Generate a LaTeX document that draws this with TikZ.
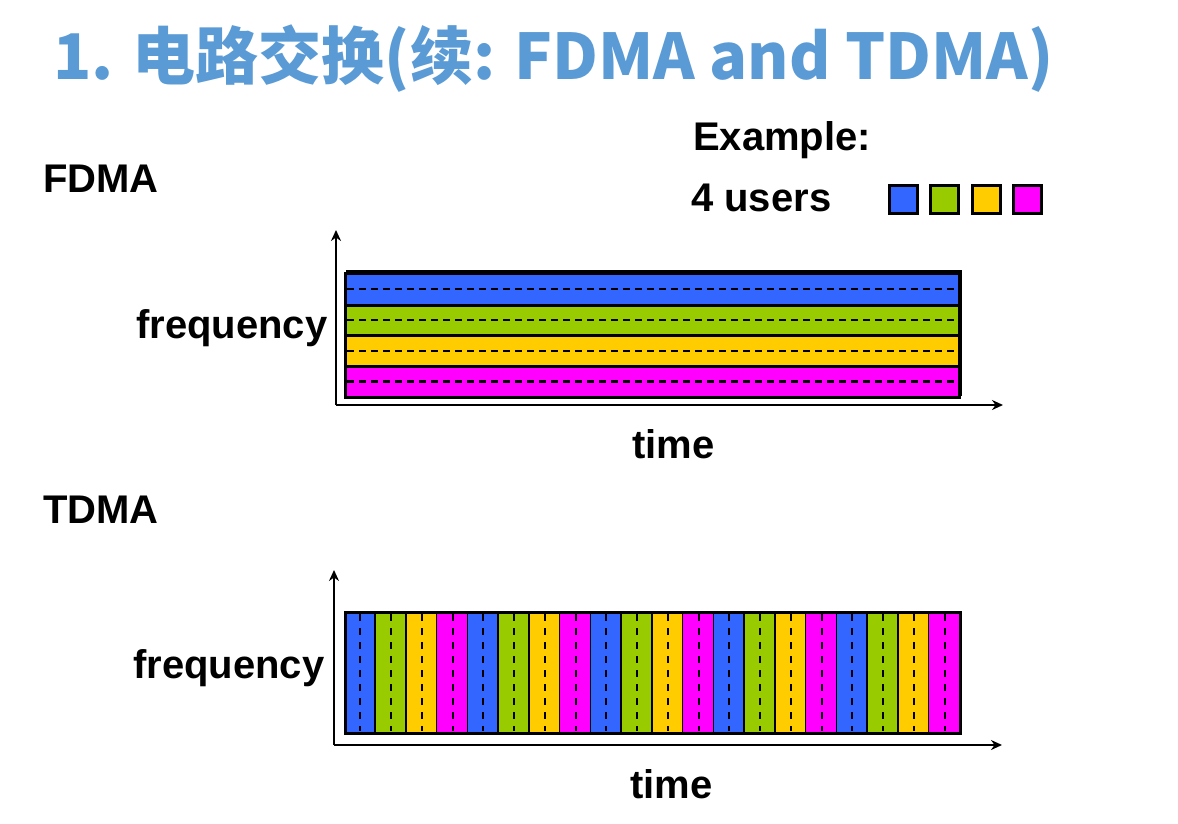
\documentclass[tikz,border=0pt]{standalone}
\usepackage{fontspec}
\setmainfont{Liberation Sans}
\newfontfamily\cjk{Noto Sans CJK SC}
\usetikzlibrary{arrows.meta}
\definecolor{ublue}{HTML}{3366FF}
\definecolor{ugreen}{HTML}{99CC00}
\definecolor{uyellow}{HTML}{FFCC00}
\definecolor{umag}{HTML}{FF00FF}
\definecolor{titleblue}{HTML}{5B9BD5}
\tikzset{
  lbl/.style={anchor=base west, inner sep=0pt, font=\fontsize{40}{48}\selectfont\bfseries},
  axis/.style={line width=2.6pt, draw=black, -{Stealth[length=11pt,width=10pt]}},
  sep/.style={line width=3pt, draw=black},
  mid/.style={line width=2.2pt, draw=black, dash pattern=on 7pt off 5pt},
  vmid/.style={line width=2.2pt, draw=black, dash pattern=on 7pt off 7pt},
  legendbox/.style={draw=black, line width=3pt, minimum size=28pt, inner sep=0pt},
}
\begin{document}
\begin{tikzpicture}[x=1pt,y=-1pt]
\useasboundingbox (0,0) rectangle (1178,824);
% title
\node[anchor=base west, inner sep=0pt, text=titleblue, font=\cjk\bfseries\fontsize{63}{70}\selectfont] (title) at (53,80) {1. 电路交换(续: FDMA and TDMA)};
% labels
\node[lbl] (ex) at (693,150) {Example:};
\node[lbl] (users) at (691,211) {4 users};
\node[lbl] (fdma) at (43,193) {FDMA};
\node[lbl] (tdma) at (43,523) {TDMA};
\node[lbl] (freq1) at (136,338) {frequency};
\node[lbl] (time1) at (632,458) {time};
\node[lbl] (freq2) at (133,678) {frequency};
\node[lbl] (time2) at (630,798) {time};
% legend
\node[legendbox, fill=ublue] (l1) at (903.5,199.5) {};
\node[legendbox, fill=ugreen] (l2) at (944.5,199.5) {};
\node[legendbox, fill=uyellow] (l3) at (986,199.5) {};
\node[legendbox, fill=umag] (l4) at (1027,199.5) {};
% FDMA chart
\coordinate (fo) at (336,405);
\coordinate (fy) at (336,230);
\coordinate (fx) at (1003,405);
\fill[ublue] (345,273) rectangle (959,305);
\fill[ugreen] (345,305) rectangle (959,335);
\fill[uyellow] (345,335) rectangle (959,366);
\fill[umag] (345,366) rectangle (959,397);
\draw[sep] (345,305) -- (959,305);
\draw[sep] (345,335) -- (959,335);
\draw[sep] (345,366) -- (959,366);
\draw[mid] (347,289) -- (957,289);
\draw[mid] (347,320) -- (957,320);
\draw[mid] (347,351) -- (957,351);
\draw[mid] (347,381.5) -- (957,381.5);
\draw[line width=3pt] (345,273) rectangle (959,397);
\draw[line width=2.5pt] (346,271.5) -- (961,271.5) -- (961,396);
\draw[axis] (fo) -- (fy);
\draw[axis] (fo) -- (fx);
% TDMA chart
\coordinate (to) at (334,745);
\coordinate (ty) at (334,570);
\coordinate (tx) at (1002,745);
\foreach \i in {0,...,19} {
  \pgfmathtruncatemacro{\c}{mod(\i,4)}
  \pgfmathsetmacro{\xa}{345+\i*30.75}
  \pgfmathsetmacro{\xb}{345+(\i+1)*30.75}
  \pgfmathsetmacro{\xm}{345+(\i+0.5)*30.75}
  \ifcase\c \def\col{ublue}\or \def\col{ugreen}\or \def\col{uyellow}\else \def\col{umag}\fi
  \fill[\col] (\xa,612) rectangle (\xb,733);
  \draw[vmid] (\xm,614) -- (\xm,731);
  \draw[sep] (\xb,612) -- (\xb,733);
}
\draw[line width=3pt] (345,612) rectangle (960,733);
\draw[axis] (to) -- (ty);
\draw[axis] (to) -- (tx);
\end{tikzpicture}
\end{document}
